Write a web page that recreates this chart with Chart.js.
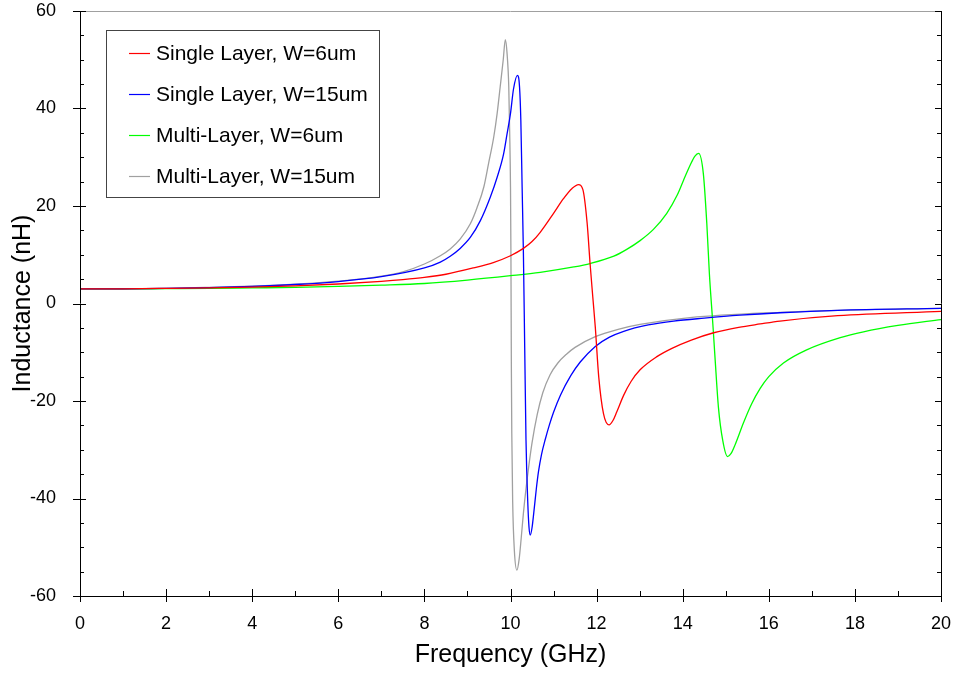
<!DOCTYPE html>
<html>
<head>
<meta charset="utf-8">
<script src="https://cdn.jsdelivr.net/npm/chart.js@4.4.1/dist/chart.umd.min.js"></script>
<style>
  html, body { margin: 0; padding: 0; background: #fff; }
</style>
</head>
<body>
<canvas id="lineChart" width="955" height="675"></canvas>
<script>
// values (frequency in GHz, inductance in nH)
const seriesLabels = ['Single Layer, W=6um', 'Single Layer, W=15um', 'Multi-Layer, W=6um', 'Multi-Layer, W=15um'];
const seriesColors = ['#ff0000', '#0000ff', '#00ff00', '#a0a0a0'];

const redFreq = [0, 1, 2, 3, 4, 5, 6, 7, 7.5, 8, 8.5, 9.14, 9.6, 10.0, 10.3, 10.5, 10.69, 11.0, 11.23, 11.43, 11.58, 11.68, 11.78, 11.85, 11.91, 11.97, 12.05, 12.16, 12.29, 12.38, 12.47, 12.63, 12.8, 13.01, 13.4, 13.75, 14.2, 14.72, 15.3, 15.8, 16.26, 17.6, 20];
const redL = [3.0, 3.02, 3.1, 3.2, 3.35, 3.6, 4.0, 4.55, 4.9, 5.35, 6.0, 7.3, 8.4, 9.8, 11.3, 12.7, 14.6, 18.5, 21.5, 23.6, 24.4, 23.4, 16.5, 8.0, 1.5, -4.9, -15.1, -22.6, -24.9, -24.0, -22.2, -18.8, -16.0, -13.6, -10.9, -9.2, -7.5, -6.0, -4.9, -4.2, -3.6, -2.5, -1.6];

const blueFreq = [0, 1, 2, 3, 4, 5, 6, 7, 8, 8.37, 8.6, 8.83, 9.07, 9.3, 9.53, 9.69, 9.84, 9.92, 10.0, 10.07, 10.16, 10.21, 10.24, 10.27, 10.30, 10.33, 10.36, 10.40, 10.43, 10.46, 10.5, 10.54, 10.6, 10.65, 10.72, 10.81, 10.9, 11.0, 11.16, 11.4, 11.62, 11.97, 12.3, 12.63, 13.2, 13.79, 14.5, 15.33, 16.26, 17.6, 20];
const blueL = [3.0, 3.02, 3.1, 3.25, 3.5, 3.9, 4.5, 5.5, 7.3, 8.5, 9.7, 11.3, 13.6, 17.0, 21.8, 25.9, 30.7, 34.8, 39.0, 44.0, 46.8, 44.4, 37.6, 23.9, 10.2, -9.0, -28.0, -40.5, -45.9, -47.5, -46.0, -43.0, -38.0, -34.5, -31.0, -27.8, -25.0, -22.3, -18.8, -14.8, -12.0, -8.8, -6.9, -5.7, -4.4, -3.6, -3.0, -2.4, -1.9, -1.4, -1.0];

const greenFreq = [0, 1, 2, 3, 4, 5, 6, 7, 8, 9, 10, 10.69, 11.47, 11.85, 12.4, 12.7, 13.01, 13.32, 13.63, 13.87, 14.02, 14.18, 14.28, 14.37, 14.48, 14.56, 14.62, 14.70, 14.75, 14.83, 14.93, 15.04, 15.12, 15.22, 15.41, 15.6, 15.8, 16.0, 16.34, 16.88, 17.66, 18.2, 19, 20];
const greenL = [3.0, 3.0, 3.05, 3.1, 3.2, 3.3, 3.5, 3.75, 4.1, 4.8, 5.7, 6.4, 7.5, 8.2, 9.7, 11.1, 12.9, 15.2, 18.5, 22.2, 25.3, 28.5, 30.2, 30.8, 26.6, 16.4, 6.1, -4.2, -11.0, -21.3, -28.1, -31.4, -30.8, -28.9, -24.5, -20.6, -17.4, -15.0, -12.2, -9.5, -7.0, -5.8, -4.5, -3.3];

const grayFreq = [0, 1, 2, 3, 4, 5, 6, 6.5, 7, 7.5, 8, 8.37, 8.6, 8.83, 9.07, 9.22, 9.38, 9.49, 9.61, 9.69, 9.76, 9.83, 9.88, 9.92, 9.96, 9.98, 10.0, 10.01, 10.02, 10.03, 10.05, 10.09, 10.15, 10.2, 10.25, 10.30, 10.36, 10.43, 10.5, 10.62, 10.75, 10.92, 11.1, 11.3, 11.5, 11.97, 12.5, 13.01, 14.17, 16.26, 17.6, 20];
const grayL = [3.0, 3.02, 3.1, 3.3, 3.55, 3.95, 4.6, 5.0, 5.6, 6.5, 8.1, 9.8, 11.2, 13.2, 16.4, 19.6, 23.9, 28.7, 34.1, 39.0, 44.4, 49.9, 54.1, 51.3, 44.4, 35.5, 23.9, 10.2, -13.0, -26.7, -40.5, -50.7, -54.7, -52.5, -48.0, -43.0, -38.0, -33.0, -28.6, -22.8, -18.3, -14.6, -12.2, -10.4, -9.0, -6.8, -5.3, -4.3, -2.9, -1.8, -1.4, -1.0];

const xTicks = { min: 0, max: 20, major: 2, minor: 1 };
const yTicks = { min: -60, max: 60, major: 20, minor: 5 };

const font = '"Liberation Sans", Arial, sans-serif';

function toPoints(xs, ys) {
    return xs.map((x, i) => ({ x: x, y: ys[i] }));
}

const allFreq = [redFreq, blueFreq, greenFreq, grayFreq];
const allL = [redL, blueL, greenL, grayL];

function line(ctx, x1, y1, x2, y2) {
    ctx.beginPath(); ctx.moveTo(x1, y1); ctx.lineTo(x2, y2); ctx.stroke();
}

// axis frame and inward tick marks
const frameTicks = {
    id: 'frameTicks',
    afterDatasetsDraw(chart) {
        const { ctx, chartArea: a, scales: { x, y } } = chart;
        ctx.save();
        ctx.lineWidth = 1;
        ctx.strokeStyle = '#a0a0a0';
        line(ctx, a.left, a.top + 0.5, a.right, a.top + 0.5);
        ctx.strokeStyle = '#000';
        line(ctx, a.left + 0.5, a.top, a.left + 0.5, a.bottom);
        line(ctx, a.left, a.bottom + 0.5, a.right + 1, a.bottom + 0.5);
        line(ctx, a.right + 0.5, a.top, a.right + 0.5, a.bottom);
        for (let v = xTicks.min; v <= xTicks.max; v += xTicks.minor) {
            const px = Math.round(x.getPixelForValue(v)) + 0.5;
            const major = v % xTicks.major === 0;
            line(ctx, px, a.bottom - (major ? 7 : 5), px, a.bottom + (major ? 6 : 0));
        }
        for (let v = yTicks.min; v <= yTicks.max; v += yTicks.minor) {
            const py = Math.round(y.getPixelForValue(v)) + 0.5;
            const major = v % yTicks.major === 0;
            line(ctx, a.left - (major ? 7 : 0), py, a.left + (major ? 6 : 4), py);
            line(ctx, a.right - (major ? 6 : 4), py, a.right, py);
        }
        ctx.restore();
    }
};

// boxed legend inside the plot, upper left
const legendBox = {
    id: 'legendBox',
    afterDatasetsDraw(chart) {
        const { ctx, chartArea: a } = chart;
        const bx = a.left + 26, by = a.top + 19, bw = 273, bh = 167;
        ctx.save();
        ctx.fillStyle = '#fff';
        ctx.fillRect(bx, by, bw, bh);
        ctx.strokeStyle = '#444';
        ctx.lineWidth = 1;
        ctx.strokeRect(bx + 0.5, by + 0.5, bw, bh);
        ctx.font = '21px ' + font;
        ctx.textBaseline = 'middle';
        chart.data.datasets.forEach((ds, i) => {
            const ry = by + 23.5 + i * 41;
            ctx.strokeStyle = ds.borderColor;
            ctx.lineWidth = 1.2;
            line(ctx, bx + 23, ry, bx + 44, ry);
            ctx.fillStyle = '#000';
            ctx.fillText(ds.label, bx + 50, ry + 1);
        });
        ctx.restore();
    }
};

const ctx = document.getElementById('lineChart').getContext('2d');
const myChart = new Chart(ctx, {
    type: 'line',
    data: {
        datasets: seriesLabels.map((label, i) => ({
            label: label,
            data: toPoints(allFreq[i], allL[i]),
            borderColor: seriesColors[i],
            backgroundColor: seriesColors[i],
            borderWidth: 1.3,
            pointRadius: 0,
            cubicInterpolationMode: 'monotone',
            fill: false
        }))
    },
    options: {
        responsive: false,
        animation: false,
        layout: { padding: { top: 11, right: 14, left: 0, bottom: 0 } },
        plugins: {
            legend: { display: false },
            tooltip: { enabled: false }
        },
        scales: {
            x: {
                type: 'linear',
                min: xTicks.min,
                max: xTicks.max,
                grid: { display: false },
                border: { display: false },
                ticks: {
                    stepSize: xTicks.major,
                    color: '#000',
                    padding: 9,
                    maxRotation: 0,
                    font: { size: 18, family: font }
                },
                title: {
                    display: true,
                    text: 'Frequency (GHz)',
                    color: '#000',
                    font: { size: 25, family: font },
                    padding: { top: 0, bottom: 5 }
                },
                afterFit(scale) {
                    scale.height = 79;
                    scale.paddingLeft = 0;
                    scale.paddingRight = 0;
                }
            },
            y: {
                min: yTicks.min,
                max: yTicks.max,
                grid: { display: false },
                border: { display: false },
                ticks: {
                    stepSize: yTicks.major,
                    color: '#000',
                    padding: 16,
                    font: { size: 18, family: font }
                },
                title: {
                    display: true,
                    text: 'Inductance (nH)',
                    color: '#000',
                    font: { size: 25, family: font },
                    padding: { top: 8, bottom: 0 }
                },
                afterFit(scale) {
                    scale.width = 80;
                    scale.paddingTop = 0;
                    scale.paddingBottom = 0;
                }
            }
        }
    },
    plugins: [frameTicks, legendBox]
});
</script>
</body>
</html>
